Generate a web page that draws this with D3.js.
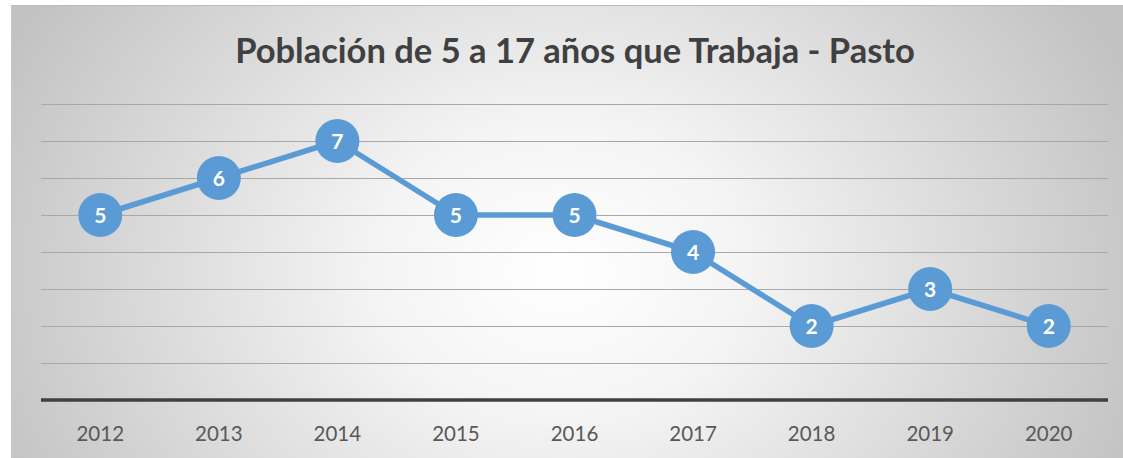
<!DOCTYPE html>
<html><head><meta charset="utf-8">
<script src="https://cdn.jsdelivr.net/npm/d3@7"></script>
<style>body{margin:0;background:#fff}svg{display:block}</style>
</head><body>
<script>
const title = "Población de 5 a 17 años que Trabaja - Pasto";
const years = ["2012","2013","2014","2015","2016","2017","2018","2019","2020"];
const values = [5,6,7,5,5,4,2,3,2];
const yTicks = [0,1,2,3,4,5,6,7,8];

const W = 1123, H = 458;
const svg = d3.select("body").append("svg").attr("width", W).attr("height", H);
const defs = svg.append("defs");
const rg = defs.append("radialGradient").attr("id","bg")
  .attr("gradientUnits","userSpaceOnUse").attr("cx",560).attr("cy",270).attr("r",620)
  .attr("gradientTransform","translate(560,270) scale(1,0.8) translate(-560,-270)");
rg.append("stop").attr("offset","0%").attr("stop-color","#ffffff");
rg.append("stop").attr("offset","30%").attr("stop-color","#f4f4f4");
rg.append("stop").attr("offset","100%").attr("stop-color","#c2c2c2");

svg.append("rect").attr("x",11).attr("y",5).attr("width",W-11).attr("height",H-5).attr("fill","url(#bg)");
svg.append("line").attr("x1",11).attr("x2",W).attr("y1",5.5).attr("y2",5.5).attr("stroke","#bdbdbd").attr("stroke-width",1);
svg.append("line").attr("x1",11.5).attr("x2",11.5).attr("y1",5).attr("y2",H).attr("stroke","#c6c6c6").attr("stroke-width",1);

const x = d3.scalePoint().domain(years).range([41,1108]).padding(0.5);
const y = d3.scaleLinear().domain([0,8]).range([400,104]);

svg.append("g").selectAll("line").data(yTicks.filter(d=>d>0)).join("line")
  .attr("x1",41).attr("x2",1108).attr("y1",d=>Math.round(y(d))+0.5).attr("y2",d=>Math.round(y(d))+0.5)
  .attr("stroke","#a8a8a8").attr("stroke-width",1);

svg.append("line").attr("x1",41).attr("x2",1108).attr("y1",y(0)).attr("y2",y(0))
  .attr("stroke","#404040").attr("stroke-width",3.5);

svg.append("g").selectAll("text").data(years).join("text")
  .attr("x",d=>x(d)).attr("y",441).attr("text-anchor","middle")
  .attr("font-family","Lato, 'Open Sans', sans-serif").attr("font-size",20.5).attr("fill","#595959")
  .text(d=>d);

svg.append("text").attr("x",575).attr("y",63).attr("text-anchor","middle")
  .attr("font-family","Lato, 'Open Sans', sans-serif").attr("font-weight","bold").attr("font-size",34.5)
  .attr("fill","#404040").text(title);

const pts = years.map((yr,i)=>({yr, v: values[i]}));
svg.append("path").datum(pts)
  .attr("d", d3.line().x(d=>x(d.yr)).y(d=>y(d.v)))
  .attr("fill","none").attr("stroke","#5b9bd5").attr("stroke-width",5.5).attr("stroke-linejoin","round");

const g = svg.append("g").selectAll("g").data(pts).join("g")
  .attr("transform",d=>`translate(${x(d.yr)},${y(d.v)})`);
g.append("circle").attr("r",22).attr("fill","#5b9bd5");
g.append("text").attr("text-anchor","middle").attr("dy","0.36em")
  .attr("font-family","Lato, 'Open Sans', sans-serif").attr("font-weight","bold").attr("font-size",21)
  .attr("fill","#ffffff").text(d=>d.v);
</script>
</body></html>
